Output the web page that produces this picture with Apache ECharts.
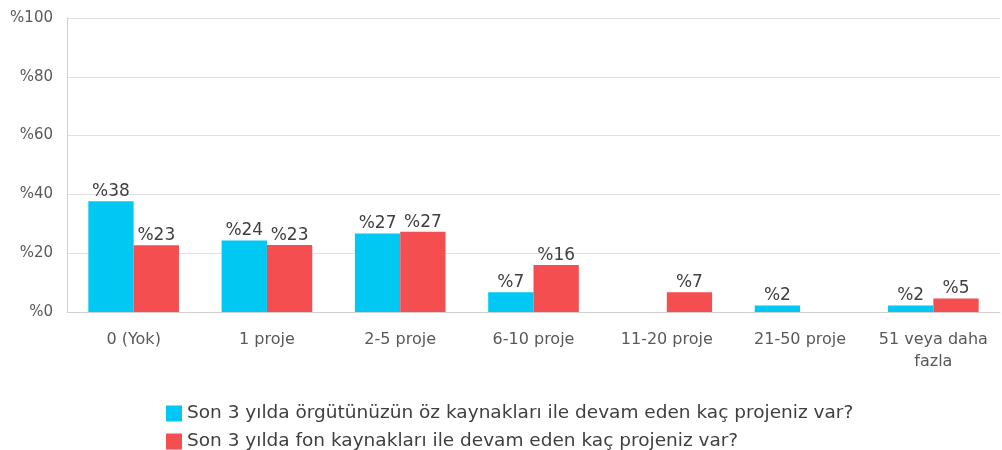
<!DOCTYPE html>
<html>
<head>
<meta charset="utf-8">
<script src="https://cdn.jsdelivr.net/npm/echarts@6/dist/echarts.min.js"></script>
<style>html,body{margin:0;padding:0;background:#fff}#c{width:1002px;height:450px}</style>
</head>
<body>
<div id="c"></div>
<script>
const categories = ['0 (Yok)', '1 proje', '2-5 proje', '6-10 proje', '11-20 proje', '21-50 proje', '51 veya daha\nfazla'];
const seriesNames = ['Son 3 yılda örgütünüzün öz kaynakları ile devam eden kaç projeniz var?', 'Son 3 yılda fon kaynakları ile devam eden kaç projeniz var?'];
const ownValues = [37.7, 24.3, 26.7, 6.7, null, 2.2, 2.2];
const fundValues = [22.7, 22.8, 27.3, 16.0, 6.7, null, 4.6];
const yTicks = [0, 20, 40, 60, 80, 100];

const font = '"DejaVu Sans", "Noto Sans", sans-serif';
const chart = echarts.init(document.getElementById('c'));
const label = {
  show: true, position: 'top', distance: 1,
  fontFamily: font, fontSize: 17, color: '#404040',
  formatter: p => '%' + Math.round(p.value)
};
const legendBase = {
  orient: 'horizontal', left: 166, padding: 0,
  itemWidth: 16, itemHeight: 16,
  icon: 'rect',
  textStyle: { fontFamily: font, fontSize: 18.5, lineHeight: 16, color: '#404040' }
};
chart.setOption({
  animation: false,
  textStyle: { fontFamily: font },
  grid: { left: 67, right: 2, top: 18, bottom: 138, containLabel: false },
  xAxis: {
    type: 'category', data: categories,
    axisLine: { lineStyle: { color: '#d0d0d0' } },
    axisTick: { show: false },
    axisLabel: { interval: 0, fontFamily: font, fontSize: 16, color: '#595959', margin: 17, lineHeight: 22 }
  },
  yAxis: {
    type: 'value', min: yTicks[0], max: yTicks[yTicks.length - 1], interval: 20,
    axisLine: { show: true, lineStyle: { color: '#d0d0d0' } },
    axisTick: { show: false },
    splitLine: { lineStyle: { color: '#e0e0e0' } },
    axisLabel: { fontFamily: font, fontSize: 15, color: '#595959', margin: 14, formatter: v => '%' + v }
  },
  legend: [
    Object.assign({}, legendBase, { top: 404, data: [seriesNames[0]] }),
    Object.assign({}, legendBase, { top: 432, data: [seriesNames[1]] })
  ],
  series: [
    { name: seriesNames[0], type: 'bar', data: ownValues, barWidth: '34%', barGap: '0%',
      itemStyle: { color: '#00c8f2' }, label },
    { name: seriesNames[1], type: 'bar', data: fundValues, barWidth: '34%', barGap: '0%',
      itemStyle: { color: '#f54e50' }, label }
  ]
});
</script>
</body>
</html>
